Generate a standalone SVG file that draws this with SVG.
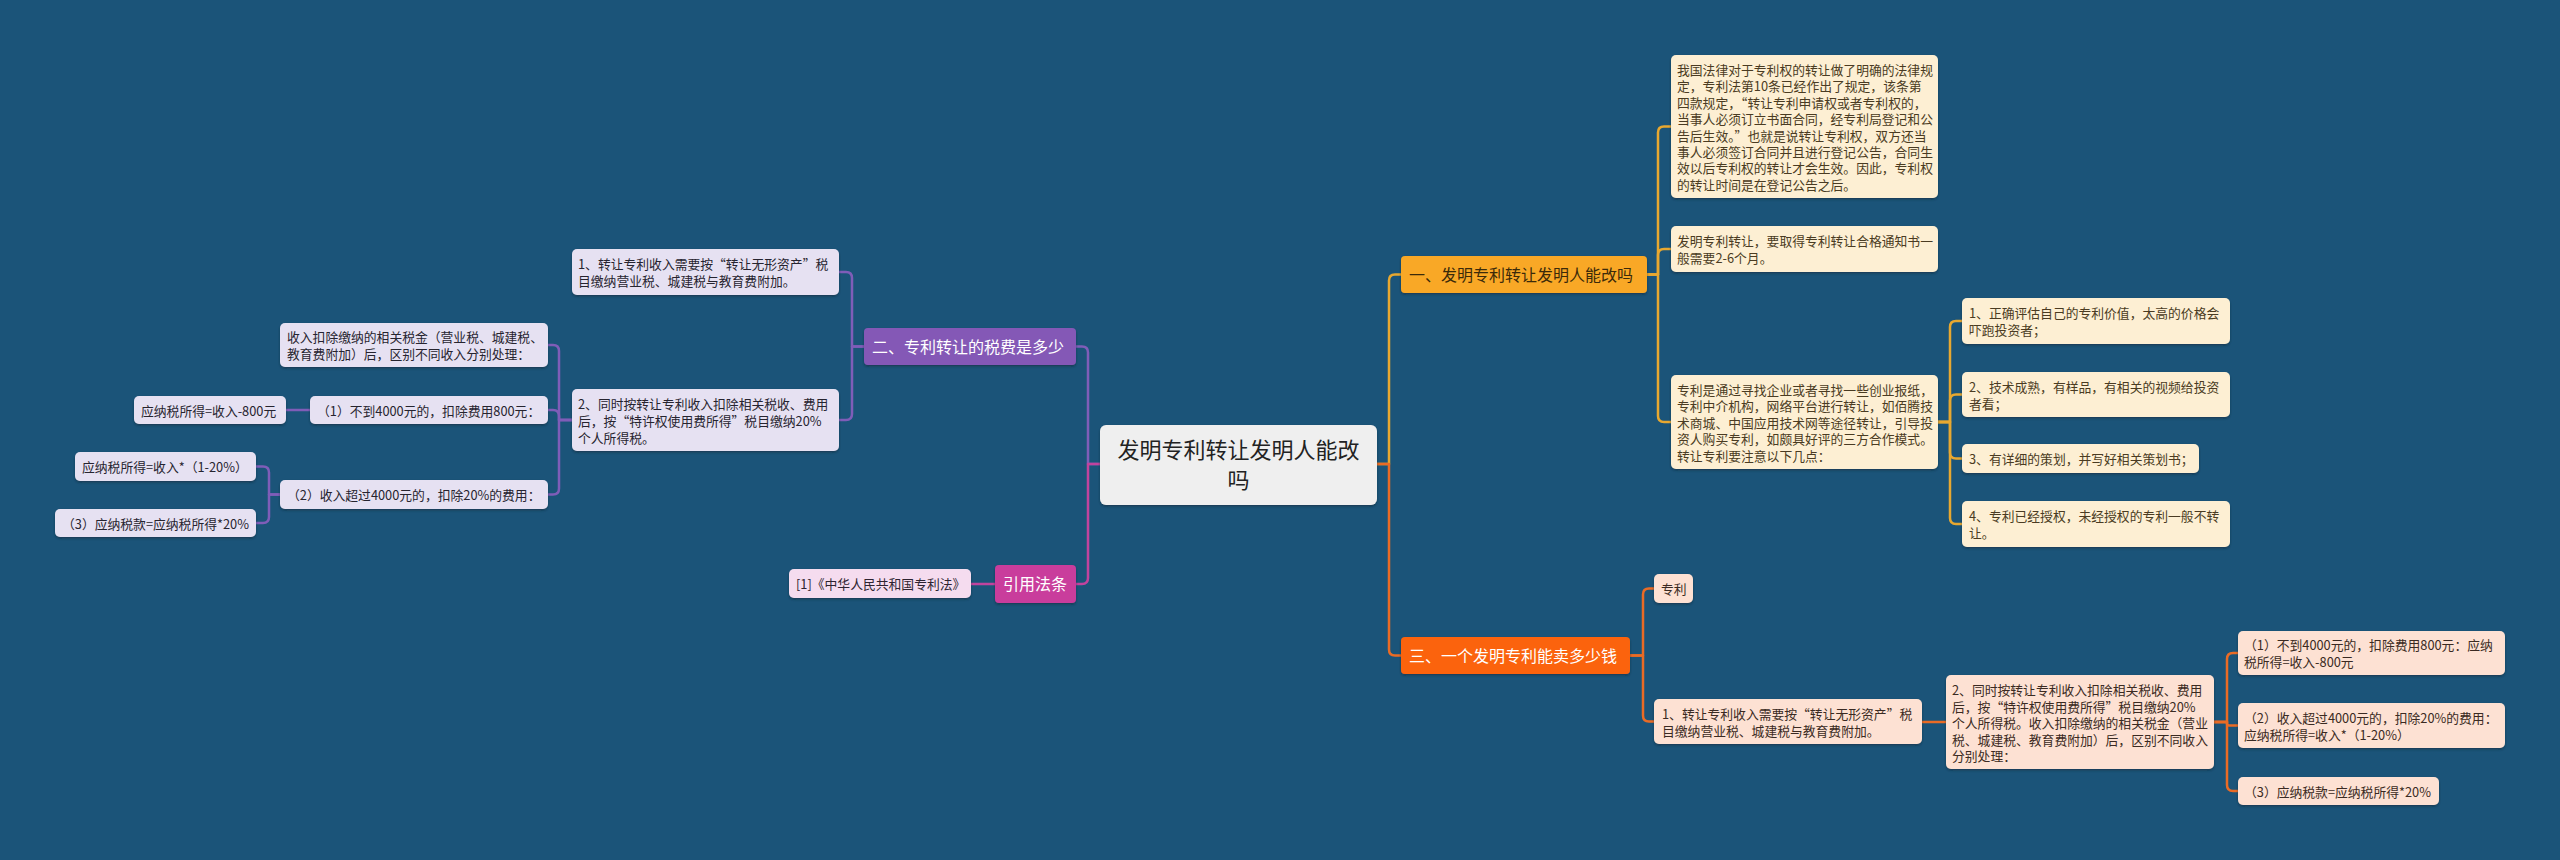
<svg xmlns="http://www.w3.org/2000/svg" width="2560" height="860" viewBox="0 0 2560 860">
<defs>
<filter id="sh" x="-5%" y="-10%" width="110%" height="140%">
<feDropShadow dx="0" dy="1.5" stdDeviation="0.8" flood-color="#0a2638" flood-opacity="0.55"/>
</filter>
</defs>
<style>
text{font-family:"Noto Sans CJK SC","Microsoft YaHei",sans-serif;}
.c{fill:none;stroke-width:2.5;stroke-linecap:round;stroke-linejoin:round}
.cy{stroke:#e8a830}.co{stroke:#ea6b25}.cp{stroke:#7f5db8}.cm{stroke:#c1439e}
.t{font-size:12.8px}
.m{font-size:16px}
.by{fill:#fdefd3}.ty{fill:#4a3b22}
.bo{fill:#fde1d3}.to{fill:#3a2a22}
.bp{fill:#e6e1f2}.tp{fill:#26242f}
.bm{fill:#f5dcef}.tm{fill:#2e2430}
</style>
<rect width="2560" height="860" fill="#1b5479"/>

<g id="connectors">
<path class="c cy" d="M1377,464 H1389 V280.5 Q1389,274.5 1395,274.5 H1401"/>
<path class="c co" d="M1377,464 H1389 V649.5 Q1389,655.5 1395,655.5 H1401"/>
<path class="c cy" d="M1647,274.5 H1658 V132.5 Q1658,126.5 1664,126.5 H1671"/>
<path class="c cy" d="M1647,274.5 H1658 V255 Q1658,249 1664,249 H1671"/>
<path class="c cy" d="M1647,274.5 H1658 V416 Q1658,422 1664,422 H1671"/>
<path class="c cy" d="M1938,422 H1950 V327 Q1950,321 1956,321 H1962"/>
<path class="c cy" d="M1938,422 H1950 V400.5 Q1950,394.5 1956,394.5 H1962"/>
<path class="c cy" d="M1938,422 H1950 V452.5 Q1950,458.5 1956,458.5 H1962"/>
<path class="c cy" d="M1938,422 H1950 V518 Q1950,524 1956,524 H1962"/>
<path class="c co" d="M1630,655.5 H1643 V594.5 Q1643,588.5 1649,588.5 H1654"/>
<path class="c co" d="M1630,655.5 H1643 V715.5 Q1643,721.5 1649,721.5 H1654"/>
<path class="c co" d="M1922,722 H1946"/>
<path class="c co" d="M2214,722 H2227 V659 Q2227,653 2233,653 H2238"/>
<path class="c co" d="M2214,722 H2227 V723.5 Q2227,725.5 2229,725.5 H2238"/>
<path class="c co" d="M2214,722 H2227 V785 Q2227,791 2233,791 H2238"/>
<path class="c cp" d="M1100,464 H1088 V352.5 Q1088,346.5 1082,346.5 H1076"/>
<path class="c cm" d="M1100,464 H1088 V578 Q1088,584 1082,584 H1076"/>
<path class="c cp" d="M864,346.5 H852 V278 Q852,272 846,272 H839"/>
<path class="c cp" d="M864,346.5 H852 V414 Q852,420 846,420 H839"/>
<path class="c cp" d="M572,420 H559 V351 Q559,345 553,345 H548"/>
<path class="c cp" d="M572,420 H559 V416 Q559,410 553,410 H548"/>
<path class="c cp" d="M572,420 H559 V488.5 Q559,494.5 553,494.5 H548"/>
<path class="c cp" d="M310,410 H286"/>
<path class="c cp" d="M280,494.5 H269 V472.5 Q269,466.5 263,466.5 H256"/>
<path class="c cp" d="M280,494.5 H269 V517 Q269,523 263,523 H256"/>
<path class="c cm" d="M995,584 H971"/>
</g>

<g id="root">
<rect x="1100" y="425" width="277" height="80" rx="6" fill="#efefef" filter="url(#sh)"/>
<text x="1238.5" y="458.4" font-size="22" text-anchor="middle" fill="#222">发明专利转让发明人能改<tspan x="1238.5" dy="30">吗</tspan></text>
</g>

<g id="b1">
<rect x="1401" y="256" width="246" height="37" rx="4" fill="#f9a825" filter="url(#sh)"/>
<text class="m" x="1409" y="280.5" fill="#3b2a0a">一、发明专利转让发明人能改吗</text>
</g>
<g id="b1-1">
<rect class="by" x="1671" y="55" width="267" height="143" rx="5" filter="url(#sh)"/>
<text class="t ty" x="1677" y="75">我国法律对于专利权的转让做了明确的法律规<tspan x="1677" dy="16.4">定，专利法第10条已经作出了规定，该条第</tspan><tspan x="1677" dy="16.4">四款规定，“转让专利申请权或者专利权的，</tspan><tspan x="1677" dy="16.4">当事人必须订立书面合同，经专利局登记和公</tspan><tspan x="1677" dy="16.4">告后生效。”也就是说转让专利权，双方还当</tspan><tspan x="1677" dy="16.4">事人必须签订合同并且进行登记公告，合同生</tspan><tspan x="1677" dy="16.4">效以后专利权的转让才会生效。因此，专利权</tspan><tspan x="1677" dy="16.4">的转让时间是在登记公告之后。</tspan></text>
</g>
<g id="b1-2">
<rect class="by" x="1671" y="226" width="267" height="46" rx="5" filter="url(#sh)"/>
<text class="t ty" x="1677" y="246">发明专利转让，要取得专利转让合格通知书一<tspan x="1677" dy="17">般需要2-6个月。</tspan></text>
</g>
<g id="b1-3">
<rect class="by" x="1671" y="375" width="267" height="94" rx="5" filter="url(#sh)"/>
<text class="t ty" x="1677" y="394.5">专利是通过寻找企业或者寻找一些创业报纸，<tspan x="1677" dy="16.5">专利中介机构，网络平台进行转让，如佰腾技</tspan><tspan x="1677" dy="16.5">术商城、中国应用技术网等途径转让，引导投</tspan><tspan x="1677" dy="16.5">资人购买专利，如颇具好评的三方合作模式。</tspan><tspan x="1677" dy="16.5">转让专利要注意以下几点：</tspan></text>
</g>
<g id="b1-3-1">
<rect class="by" x="1962" y="298" width="268" height="46" rx="5" filter="url(#sh)"/>
<text class="t ty" x="1969" y="318">1、正确评估自己的专利价值，太高的价格会<tspan x="1969" dy="17">吓跑投资者；</tspan></text>
</g>
<g id="b1-3-2">
<rect class="by" x="1962" y="372" width="268" height="45" rx="5" filter="url(#sh)"/>
<text class="t ty" x="1969" y="391.5">2、技术成熟，有样品，有相关的视频给投资<tspan x="1969" dy="17">者看；</tspan></text>
</g>
<g id="b1-3-3">
<rect class="by" x="1962" y="444" width="237" height="29" rx="5" filter="url(#sh)"/>
<text class="t ty" x="1969" y="464">3、有详细的策划，并写好相关策划书；</text>
</g>
<g id="b1-3-4">
<rect class="by" x="1962" y="501" width="268" height="46" rx="5" filter="url(#sh)"/>
<text class="t ty" x="1969" y="521">4、专利已经授权，未经授权的专利一般不转<tspan x="1969" dy="17">让。</tspan></text>
</g>

<g id="b3">
<rect x="1401" y="637" width="229" height="37" rx="4" fill="#fb640f" filter="url(#sh)"/>
<text class="m" x="1409" y="661.5" fill="#ffffff">三、一个发明专利能卖多少钱</text>
</g>
<g id="b3-1">
<rect class="bo" x="1654" y="574" width="39" height="29" rx="5" filter="url(#sh)"/>
<text class="t to" x="1661" y="594">专利</text>
</g>
<g id="b3-2">
<rect class="bo" x="1654" y="699" width="268" height="45" rx="5" filter="url(#sh)"/>
<text class="t to" x="1662" y="718.5">1、转让专利收入需要按“转让无形资产”税<tspan x="1662" dy="17">目缴纳营业税、城建税与教育费附加。</tspan></text>
</g>
<g id="b3-3">
<rect class="bo" x="1946" y="675" width="268" height="94" rx="5" filter="url(#sh)"/>
<text class="t to" x="1952" y="695">2、同时按转让专利收入扣除相关税收、费用<tspan x="1952" dy="16.5">后，按“特许权使用费所得”税目缴纳20%</tspan><tspan x="1952" dy="16.5">个人所得税。收入扣除缴纳的相关税金（营业</tspan><tspan x="1952" dy="16.5">税、城建税、教育费附加）后，区别不同收入</tspan><tspan x="1952" dy="16.5">分别处理：</tspan></text>
</g>
<g id="b3-3-1">
<rect class="bo" x="2238" y="631" width="267" height="44" rx="5" filter="url(#sh)"/>
<text class="t to" x="2244" y="650">（1）不到4000元的，扣除费用800元：应纳<tspan x="2244" dy="17">税所得=收入-800元</tspan></text>
</g>
<g id="b3-3-2">
<rect class="bo" x="2238" y="703" width="267" height="45" rx="5" filter="url(#sh)"/>
<text class="t to" x="2244" y="722.5">（2）收入超过4000元的，扣除20%的费用：<tspan x="2244" dy="17">应纳税所得=收入*（1-20%）</tspan></text>
</g>
<g id="b3-3-3">
<rect class="bo" x="2238" y="777" width="201" height="28" rx="5" filter="url(#sh)"/>
<text class="t to" x="2244" y="796.5">（3）应纳税款=应纳税所得*20%</text>
</g>

<g id="b2">
<rect x="864" y="328" width="212" height="37" rx="4" fill="#8459b6" filter="url(#sh)"/>
<text class="m" x="872" y="352.5" fill="#ffffff">二、专利转让的税费是多少</text>
</g>
<g id="b2-1">
<rect class="bp" x="572" y="249" width="267" height="46" rx="5" filter="url(#sh)"/>
<text class="t tp" x="578" y="269">1、转让专利收入需要按“转让无形资产”税<tspan x="578" dy="17">目缴纳营业税、城建税与教育费附加。</tspan></text>
</g>
<g id="b2-2">
<rect class="bp" x="572" y="389" width="267" height="62" rx="5" filter="url(#sh)"/>
<text class="t tp" x="578" y="408.5">2、同时按转让专利收入扣除相关税收、费用<tspan x="578" dy="17">后，按“特许权使用费所得”税目缴纳20%</tspan><tspan x="578" dy="17">个人所得税。</tspan></text>
</g>
<g id="b2-2-1">
<rect class="bp" x="280" y="323" width="268" height="44" rx="5" filter="url(#sh)"/>
<text class="t tp" x="287" y="342">收入扣除缴纳的相关税金（营业税、城建税、<tspan x="287" dy="17">教育费附加）后，区别不同收入分别处理：</tspan></text>
</g>
<g id="b2-2-2">
<rect class="bp" x="310" y="396" width="238" height="28" rx="5" filter="url(#sh)"/>
<text class="t tp" x="317" y="415.5">（1）不到4000元的，扣除费用800元：</text>
</g>
<g id="b2-2-2-1">
<rect class="bp" x="134" y="396" width="152" height="28" rx="5" filter="url(#sh)"/>
<text class="t tp" x="141" y="415.5">应纳税所得=收入-800元</text>
</g>
<g id="b2-2-3">
<rect class="bp" x="280" y="480" width="268" height="29" rx="5" filter="url(#sh)"/>
<text class="t tp" x="287" y="500">（2）收入超过4000元的，扣除20%的费用：</text>
</g>
<g id="b2-2-3-1">
<rect class="bp" x="75" y="452" width="181" height="29" rx="5" filter="url(#sh)"/>
<text class="t tp" x="82" y="472">应纳税所得=收入*（1-20%）</text>
</g>
<g id="b2-2-3-2">
<rect class="bp" x="55" y="509" width="201" height="28" rx="5" filter="url(#sh)"/>
<text class="t tp" x="62" y="528.5">（3）应纳税款=应纳税所得*20%</text>
</g>

<g id="b4">
<rect x="995" y="565" width="81" height="38" rx="4" fill="#c93d9c" filter="url(#sh)"/>
<text class="m" x="1003" y="590" fill="#ffffff">引用法条</text>
</g>
<g id="b4-1">
<rect class="bm" x="789" y="569" width="182" height="29" rx="5" filter="url(#sh)"/>
<text class="t tm" x="796" y="589">[1]《中华人民共和国专利法》</text>
</g>
</svg>
